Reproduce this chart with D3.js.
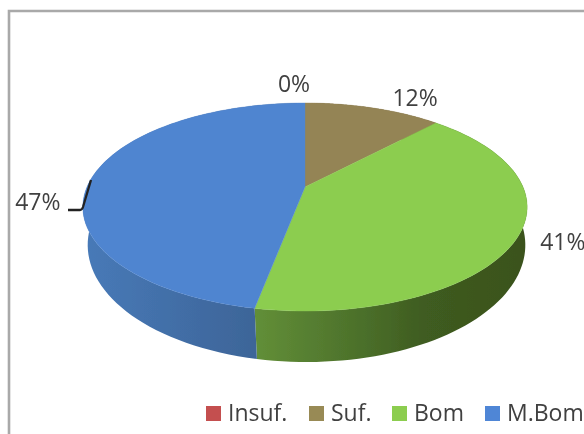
<!DOCTYPE html>
<html><head><meta charset="utf-8">
<script src="https://cdnjs.cloudflare.com/ajax/libs/d3/7.8.5/d3.min.js"></script>
<style>html,body{margin:0;padding:0;background:#fff;overflow:hidden}svg{display:block}</style>
</head><body><div id="chart"></div>
<script>
const categories = ["Insuf.", "Suf.", "Bom", "M.Bom"];
const values = [0, 12, 41, 47];
const percentLabels = ["0%", "12%", "41%", "47%"];
const topColors = ["#c0504d", "#948454", "#8ccd50", "#5085d0"];
const legendColors = ["#c4504f", "#988a55", "#8ccd50", "#4f86d6"];

const W = 584, H = 434;
const svg = d3.select("#chart").append("svg").attr("width", W).attr("height", H);
const defs = svg.append("defs");
defs.append("filter").attr("id", "soft").attr("x", "-5%").attr("y", "-5%").attr("width", "110%").attr("height", "110%")
  .append("feGaussianBlur").attr("stdDeviation", 0.55);

// Horizontal shading of the pie's wall, per category
const wallStops = {
  2: [[0, "#628f38"], [0.45, "#486b28"], [0.62, "#3f5c20"], [1, "#3a521d"]],
  3: [[0, "#477ab8"], [0.6, "#40699f"], [1, "#38608f"]],
  1: [[0, "#6b5f3b"], [1, "#6b5f3b"]],
  0: [[0, "#8a3a38"], [1, "#8a3a38"]]
};

const root = svg.append("g").attr("filter", "url(#soft)");
root.append("path").attr("d", `M9,${H}V11H${W}`).attr("fill", "none").attr("stroke", "#a9a9a9").attr("stroke-width", 2.6);

// Perspective projection of the pie disc
const cx = 305, R = 218;
const A = 64.2, B = 187, C = -0.1923;
const topFace = t => {
  const u = Math.sin(t), v = -Math.cos(t), d = 1 + C * v;
  return [cx + R * u / d, (A * v + B) / d];
};
const bottomFace = t => {
  const p = topFace(t);
  return [306.5 + (p[0] - cx) * 0.985, 245 + (p[1] - 207) * 1.125];
};

const arcs = d3.pie().sort(null).value(d => d)(values);
const samples = a => d3.range(0, 81).map(i => a.startAngle + (a.endAngle - a.startAngle) * i / 80);
const line = d3.line();

// Walls
arcs.forEach((a, i) => {
  if (a.value === 0) return;
  const ts = samples(a);
  const upper = ts.map(topFace), lower = ts.map(bottomFace);
  const poly = upper.concat(lower.reverse());
  const xs = poly.map(p => p[0]);
  const g = defs.append("linearGradient").attr("id", "wall" + i).attr("gradientUnits", "userSpaceOnUse")
    .attr("x1", d3.min(xs)).attr("x2", d3.max(xs)).attr("y1", 0).attr("y2", 0);
  wallStops[i].forEach(s => g.append("stop").attr("offset", s[0]).attr("stop-color", s[1]));
  root.append("path").attr("d", line(poly) + "Z").attr("fill", `url(#wall${i})`);
});

// Top face
arcs.forEach((a, i) => {
  if (a.value === 0) return;
  const pts = [[cx, B]].concat(samples(a).map(topFace));
  root.append("path").attr("d", line(pts) + "Z").attr("fill", topColors[i])
    .attr("stroke", topColors[i]).attr("stroke-width", 0.4);
});

// Data labels, placed relative to each slice's rim midpoint
const labelOffset = [[-11, -11], [42, -2], [45, 13.5], [-54, 32]];
const font = "'Open Sans', sans-serif";
arcs.forEach((a, i) => {
  const p = topFace((a.startAngle + a.endAngle) / 2);
  root.append("text").attr("x", p[0] + labelOffset[i][0]).attr("y", p[1] + labelOffset[i][1])
    .attr("text-anchor", "middle").attr("font-family", font).attr("font-size", 23).attr("fill", "#404040")
    .text(percentLabels[i]);
});

// Leader line of the 47% label
root.append("path").attr("d", "M68,210H80Q82,210 83,207L91,180").attr("fill", "none")
  .attr("stroke", "#222").attr("stroke-width", 2.3);

// Legend
const legendX = [206, 309, 392, 485];
categories.forEach((c, i) => {
  root.append("rect").attr("x", legendX[i]).attr("y", 406).attr("width", 15).attr("height", 15).attr("fill", legendColors[i]);
  root.append("text").attr("x", legendX[i] + 22).attr("y", 421).attr("font-family", font).attr("font-size", 23)
    .attr("fill", "#404040").text(c);
});
</script></body></html>
